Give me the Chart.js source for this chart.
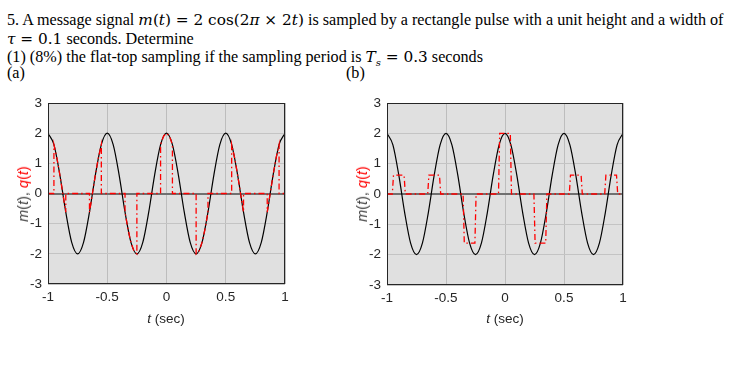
<!DOCTYPE html>
<html>
<head>
<meta charset="utf-8">
<script src="https://cdn.jsdelivr.net/npm/chart.js@4.4.0/dist/chart.umd.min.js"></script>
<style>
  body { margin: 0; background: #fff; width: 733px; height: 376px; overflow: hidden; position: relative; }
  .line { position: absolute; left: 7px; font-family: 'Liberation Serif', serif; font-size: 16.15px; line-height: 19px; white-space: nowrap; color: #000; }
  .m { font-family: 'DejaVu Serif', serif; font-size: 15.3px; }
  .m sub { font-size: 10px; line-height: 0; }
  .plot { position: absolute; top: 88px; }
  .ytitle { position: absolute; font-family: 'Liberation Sans', Arial, sans-serif; font-size: 14.5px; white-space: nowrap;
            transform: translate(-50%, -50%) rotate(-90deg); color: #404040; }
  .ytitle .q { color: #ff0000; }
  .xtitle { position: absolute; font-family: 'Liberation Sans', Arial, sans-serif; font-size: 13.5px; white-space: nowrap;
            transform: translate(-50%, -50%); color: #262626; }
</style>
</head>
<body>
<div class="line" style="top:10px">5. A message signal <span class="m"><i>m</i>(<i>t</i>) = 2 cos(2<i>π</i> × 2<i>t</i>)</span> is sampled by a rectangle pulse with a unit height and a width of</div>
<div class="line" style="top:29px"><span class="m"><i>τ</i> = 0.1</span> seconds. Determine</div>
<div class="line" style="top:47px">(1) (8%) the flat-top sampling if the sampling period is <span class="m"><i>T<sub>s</sub></i> = 0.3</span> seconds</div>
<div class="line" style="top:63px">(a)</div>
<div class="line" style="top:63px;left:346px">(b)</div>

<canvas id="chartA" class="plot" style="left:0px" width="300" height="250"></canvas>
<canvas id="chartB" class="plot" style="left:340px" width="300" height="250"></canvas>

<div class="ytitle" style="left:23px;top:194px"><i>m</i>(<i>t</i>), <span class="q"><i>q</i>(<i>t</i>)</span></div>
<div class="ytitle" style="left:362px;top:194px"><i>m</i>(<i>t</i>), <span class="q"><i>q</i>(<i>t</i>)</span></div>
<div class="xtitle" style="left:166px;top:318px"><i>t</i> (sec)</div>
<div class="xtitle" style="left:505px;top:318px"><i>t</i> (sec)</div>

<script>
// m(t), every 0.05 s
const tGrid = [-1, -0.95, -0.9, -0.85, -0.8, -0.75, -0.7, -0.65, -0.6, -0.55,
               -0.5, -0.45, -0.4, -0.35, -0.3, -0.25, -0.2, -0.15, -0.1, -0.05,
               0, 0.05, 0.1, 0.15, 0.2, 0.25, 0.3, 0.35, 0.4, 0.45,
               0.5, 0.55, 0.6, 0.65, 0.7, 0.75, 0.8, 0.85, 0.9, 0.95, 1];
const mValues = [2, 1.62, 0.62, -0.62, -1.62, -2, -1.62, -0.62, 0.62, 1.62,
                 2, 1.62, 0.62, -0.62, -1.62, -2, -1.62, -0.62, 0.62, 1.62,
                 2, 1.62, 0.62, -0.62, -1.62, -2, -1.62, -0.62, 0.62, 1.62,
                 2, 1.62, 0.62, -0.62, -1.62, -2, -1.62, -0.62, 0.62, 1.62, 2];

// pulse centres (Ts = 0.3) and the values inside each pulse
const sampleTimes = [-0.9, -0.6, -0.3, 0, 0.3, 0.6, 0.9];
const pulseOffsets = [-0.05, -0.025, 0, 0.025, 0.05];
const naturalPulses = [
  [1.62, 1.18, 0.62, 0, -0.62],
  [-0.62, 0, 0.62, 1.18, 1.62],
  [-0.62, -1.18, -1.62, -1.9, -2],
  [1.62, 1.9, 2, 1.9, 1.62],
  [-2, -1.9, -1.62, -1.18, -0.62],
  [1.62, 1.18, 0.62, 0, -0.62],
  [-0.62, 0, 0.62, 1.18, 1.62]
];
const flatTopHeights = [0.62, 0.62, -1.62, 2, -1.62, 0.62, 0.62];
const flatTopEdges = [-0.055, -0.045, 0.045, 0.055];

const xTicks = ['-1', '-0.5', '0', '0.5', '1'];
const yTicks = ['-3', '-2', '-1', '0', '1', '2', '3'];

const mPoints = tGrid.map((t, i) => ({ x: t, y: mValues[i] }));

const naturalPoints = [{ x: -1, y: 0 }];
sampleTimes.forEach((t, k) => {
  naturalPoints.push({ x: t + pulseOffsets[0], y: 0 });
  pulseOffsets.forEach((o, j) => naturalPoints.push({ x: t + o, y: naturalPulses[k][j] }));
  naturalPoints.push({ x: t + pulseOffsets[pulseOffsets.length - 1], y: 0 });
});
naturalPoints.push({ x: 1, y: 0 });

const flatPoints = [{ x: -1, y: 0 }];
sampleTimes.forEach((t, k) => {
  const h = flatTopHeights[k];
  flatPoints.push({ x: t + flatTopEdges[0], y: 0 });
  flatPoints.push({ x: t + flatTopEdges[1], y: h });
  flatPoints.push({ x: t + flatTopEdges[2], y: h });
  flatPoints.push({ x: t + flatTopEdges[3], y: 0 });
});
flatPoints.push({ x: 1, y: 0 });

const plotBox = {
  id: 'plotBox',
  beforeDraw(chart) {
    const { ctx, chartArea: a } = chart;
    ctx.save();
    ctx.fillStyle = '#e0e0e0';
    ctx.fillRect(a.left, a.top, a.width, a.height);
    ctx.restore();
  },
  afterDraw(chart) {
    const { ctx, chartArea: a } = chart;
    ctx.save();
    ctx.strokeStyle = '#262626';
    ctx.lineWidth = 1;
    ctx.strokeRect(a.left + 0.5, a.top + 0.5, a.width - 1, a.height - 1);
    ctx.restore();
  }
};

const tickFont = { family: "'Liberation Sans', Arial, sans-serif", size: 13.5 };

function makeChart(id, redPoints, yWidth, xHeight, padRight) {
  new Chart(document.getElementById(id), {
    type: 'line',
    data: {
      datasets: [
        {
          data: redPoints,
          borderColor: '#ff0000',
          borderWidth: 1.3,
          borderDash: [6, 3, 1.5, 3],
          pointRadius: 0,
          tension: 0
        },
        {
          data: mPoints,
          borderColor: '#000000',
          borderWidth: 1.2,
          pointRadius: 0,
          cubicInterpolationMode: 'monotone'
        }
      ]
    },
    options: {
      responsive: false,
      animation: false,
      devicePixelRatio: 1,
      layout: { padding: { top: 15, right: padRight, left: 0, bottom: 0 } },
      plugins: { legend: { display: false }, tooltip: { enabled: false } },
      scales: {
        x: {
          type: 'linear',
          min: -1, max: 1,
          afterFit: s => { s.height = xHeight; },
          border: { display: false },
          grid: { color: '#bdbdbd', drawTicks: false },
          ticks: {
            stepSize: 0.5, padding: 5, color: '#262626', font: tickFont, maxRotation: 0,
            callback: (v, i) => xTicks[i]
          }
        },
        y: {
          min: -3, max: 3,
          afterFit: s => { s.width = yWidth; },
          border: { display: false },
          grid: {
            drawTicks: false,
            color: c => c.tick && c.tick.value === 0 ? '#707070' : '#c4c4c4',
            lineWidth: c => c.tick && c.tick.value === 0 ? 2 : 1
          },
          ticks: {
            stepSize: 1, padding: 6, color: '#262626', font: tickFont,
            callback: (v, i) => yTicks[i]
          }
        }
      }
    },
    plugins: [plotBox]
  });
}

makeChart('chartA', naturalPoints, 48, 54, 15);
makeChart('chartB', flatPoints, 47, 53, 17);
</script>
</body>
</html>
